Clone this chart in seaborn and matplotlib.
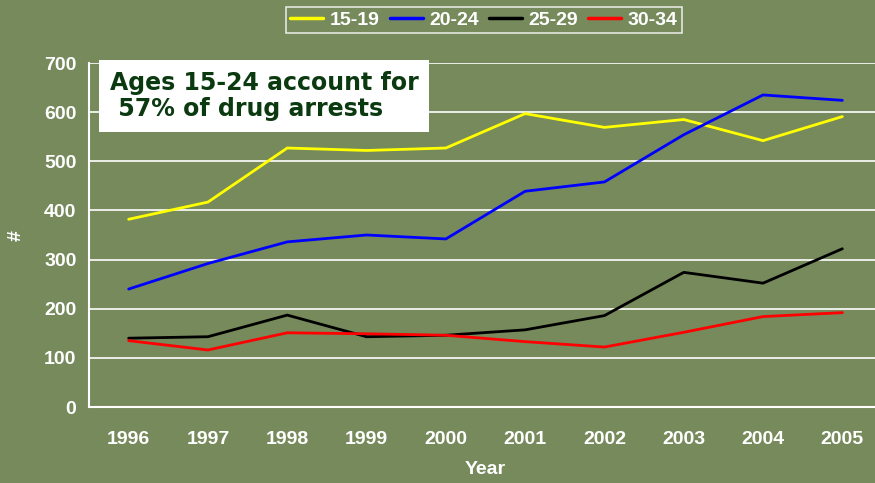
import matplotlib
matplotlib.use("Agg")
import matplotlib.pyplot as plt
import seaborn as sns
import pandas as pd
import numpy as np

years = ["1996", "1997", "1998", "1999", "2000", "2001", "2002", "2003", "2004", "2005"]
ages_15_19 = [382, 417, 527, 522, 527, 597, 569, 585, 542, 591]
ages_20_24 = [240, 292, 336, 350, 342, 439, 458, 554, 635, 624]
ages_25_29 = [140, 143, 187, 143, 146, 157, 186, 274, 252, 322]
ages_30_34 = [135, 116, 151, 149, 146, 133, 122, 152, 184, 192]
groups = ["15-19", "20-24", "25-29", "30-34"]
colors = ["#ffff00", "#0000ff", "#000000", "#ff0000"]

df = pd.DataFrame({"Year": years, "15-19": ages_15_19, "20-24": ages_20_24,
                   "25-29": ages_25_29, "30-34": ages_30_34})
long = df.melt(id_vars="Year", var_name="Age", value_name="Count")
long["x"] = long["Year"].map({y: i for i, y in enumerate(years)})

bg = "#768a5b"
sns.set_style("white")
plt.rcParams["font.family"] = ["Liberation Sans", "DejaVu Sans"]

fig = plt.figure(figsize=(8.75, 4.83), dpi=100, facecolor=bg)
ax = fig.add_axes([89 / 875, 76 / 483, 793 / 875, 344 / 483])
ax.set_facecolor(bg)

sns.lineplot(data=long, x="x", y="Count", hue="Age", hue_order=groups,
             palette=colors, linewidth=2, ax=ax, legend=False)

ax.set_xlim(-0.5, 9.5)
ax.set_ylim(0, 700)
ax.set_yticks(range(0, 701, 100))
ax.yaxis.grid(True, color="white", linewidth=1.2)
ax.set_axisbelow(True)

ax.set_xticks(range(len(years)))
ax.set_xticklabels(years)
ax.set_xticks(np.arange(-0.5, len(years)), minor=True)
ax.tick_params(axis="x", which="major", length=0, pad=17, colors="white",
               labelsize=14)
ax.tick_params(axis="x", which="minor", length=5, width=1.2, color="white",
               direction="out")
ax.tick_params(axis="y", length=5, width=1.2, color="white", colors="white",
               labelsize=14, pad=4)
for lab in ax.get_xticklabels() + ax.get_yticklabels():
    lab.set_fontweight("bold")

for s in ["top", "right"]:
    ax.spines[s].set_visible(False)
for s in ["left", "bottom"]:
    ax.spines[s].set_color("white")
    ax.spines[s].set_linewidth(1.5)

ax.set_xlabel("Year", color="white", fontsize=14, fontweight="bold", labelpad=10)
ax.set_ylabel("")
fig.text(16 / 875, 1 - 235 / 483, "#", color="white", fontsize=14,
         fontweight="bold", rotation=90, ha="center", va="center")

handles = [plt.Line2D([], [], color=c, linewidth=2.5) for c in colors]
leg = fig.legend(handles, groups, loc="center", bbox_to_anchor=(484 / 875, 1 - 20 / 483),
                 ncol=4, frameon=True, fancybox=False, handlelength=1.7,
                 handletextpad=0.35, columnspacing=0.5, borderpad=0.2,
                 prop={"weight": "bold", "size": 14})
leg.get_frame().set_facecolor("none")
leg.get_frame().set_edgecolor("white")
leg.get_frame().set_linewidth(1.2)
for t in leg.get_texts():
    t.set_color("white")

fig.text(110 / 875, 1 - 71 / 483, "Ages 15-24 account for\n 57% of drug arrests",
         ha="left", va="top", fontsize=17, fontweight="bold", color="#0b3a10",
         family=["DejaVu Sans"], linespacing=1.1,
         bbox=dict(boxstyle="square,pad=0.45", facecolor="white", edgecolor="none"))

fig.savefig("out.png", dpi=100, facecolor=bg)
